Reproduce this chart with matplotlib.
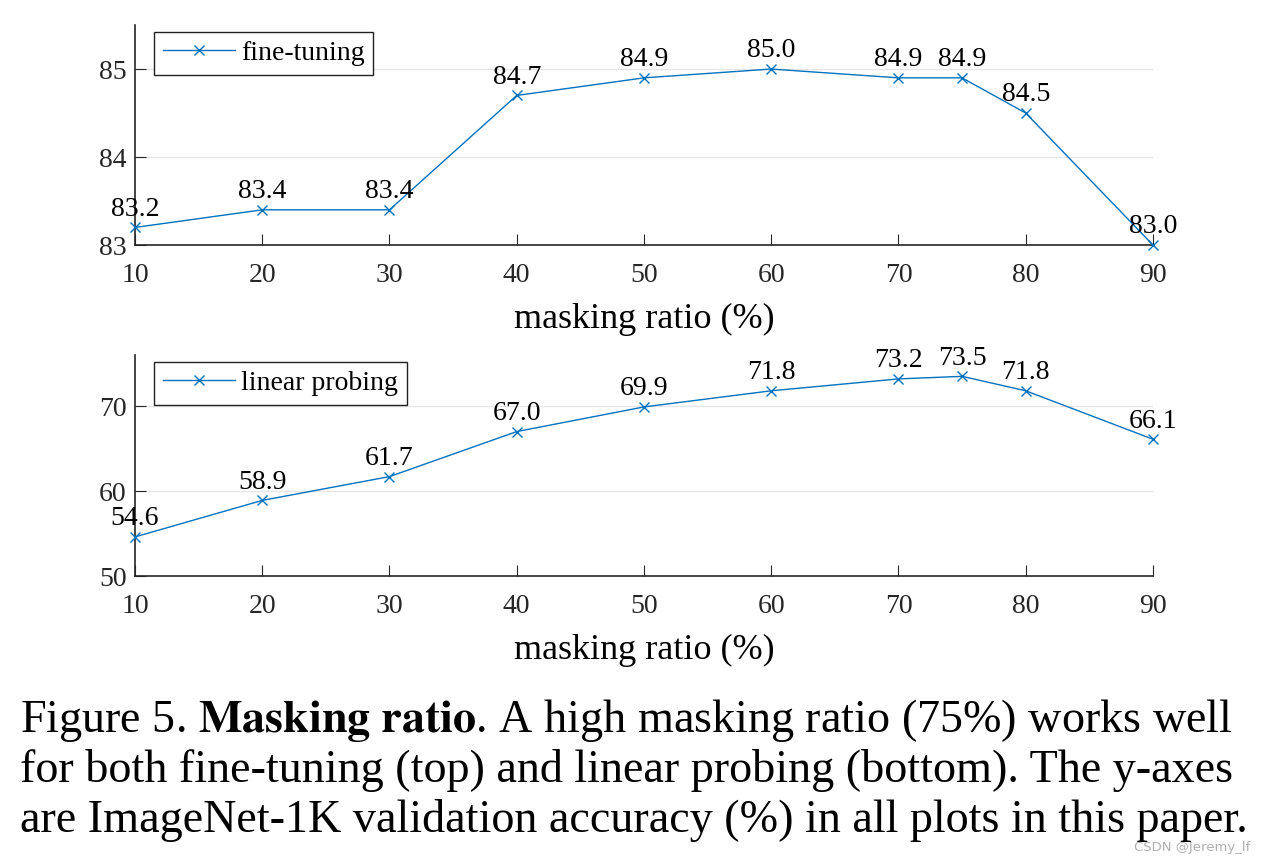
import matplotlib.pyplot as plt

# masking ratio (%) and ImageNet-1K val accuracy
ratio = [10, 20, 30, 40, 50, 60, 70, 75, 80, 90]
finetune = [83.2, 83.4, 83.4, 84.7, 84.9, 85.0, 84.9, 84.9, 84.5, 83.0]
linprobe = [54.6, 58.9, 61.7, 67.0, 69.9, 71.8, 73.2, 73.5, 71.8, 66.1]
xticks = [10, 20, 30, 40, 50, 60, 70, 80, 90]
ft_yticks = [83, 84, 85]
lp_yticks = [50, 60, 70]

plt.rcParams['font.family'] = ['Liberation Serif', 'DejaVu Serif']
plt.rcParams['mathtext.fontset'] = 'stix'
BLUE = '#0072BD'
SPINE = '#262626'

fig = plt.figure(figsize=(12.66, 8.64), dpi=100)
ax1 = fig.add_axes([0.1066, 0.7164, 0.8041, 0.2546])
ax2 = fig.add_axes([0.1066, 0.3333, 0.8041, 0.2557])


def draw(ax, y, label, yticks, ylim):
    ax.plot(ratio, y, color=BLUE, lw=1.0, marker='x', ms=7, mew=1.0, label=label,
            clip_on=False, zorder=3)
    for xv, yv in zip(ratio, y):
        ax.annotate(f"{yv:.1f}", (xv, yv), xytext=(0, 4), textcoords='offset points',
                    ha='center', va='bottom', fontsize=20)
    ax.set_xlim(10, 90)
    ax.set_ylim(*ylim)
    ax.set_xticks(xticks)
    ax.set_yticks(yticks)
    ax.tick_params(direction='in', labelsize=20, length=8, color=SPINE,
                   labelcolor=SPINE)
    ax.tick_params(axis='x', pad=13)
    ax.tick_params(axis='y', pad=6)
    ax.grid(axis='y', color='#e6e6e6', lw=1.0)
    ax.set_axisbelow(True)
    for s in ['top', 'right']:
        ax.spines[s].set_visible(False)
    for s in ['left', 'bottom']:
        ax.spines[s].set_color(SPINE)
        ax.spines[s].set_linewidth(1.2)
    ax.set_xlabel('masking ratio (%)', fontsize=26, labelpad=11)
    leg = ax.legend(loc='upper left', fontsize=20, fancybox=False, framealpha=1,
                    edgecolor='#222222', handlelength=2.6, handletextpad=0.2,
                    borderpad=0.32, bbox_to_anchor=(0.019, 0.97), borderaxespad=0)
    leg.get_frame().set_linewidth(1.0)


draw(ax1, finetune, 'fine-tuning', ft_yticks, (83, 85.5))
draw(ax2, linprobe, 'linear probing', lp_yticks, (50, 76))

caption = [
    r"Figure 5. $\mathbf{Masking\ ratio}$. A high masking ratio (75%) works well",
    "for both fine-tuning (top) and linear probing (bottom). The y-axes",
    "are ImageNet-1K validation accuracy (%) in all plots in this paper.",
]
for i, line in enumerate(caption):
    fig.text(0.016, 1 - (720 + 50 * i) / 864, line, fontsize=33.2, va='center', ha='left')

fig.text(0.988, 1 - 848 / 864, 'CSDN @Jeremy_lf', fontsize=9.5, color='#b0b0b0',
         ha='right', va='center', family='DejaVu Sans')

fig.savefig('out.png', dpi=100)
